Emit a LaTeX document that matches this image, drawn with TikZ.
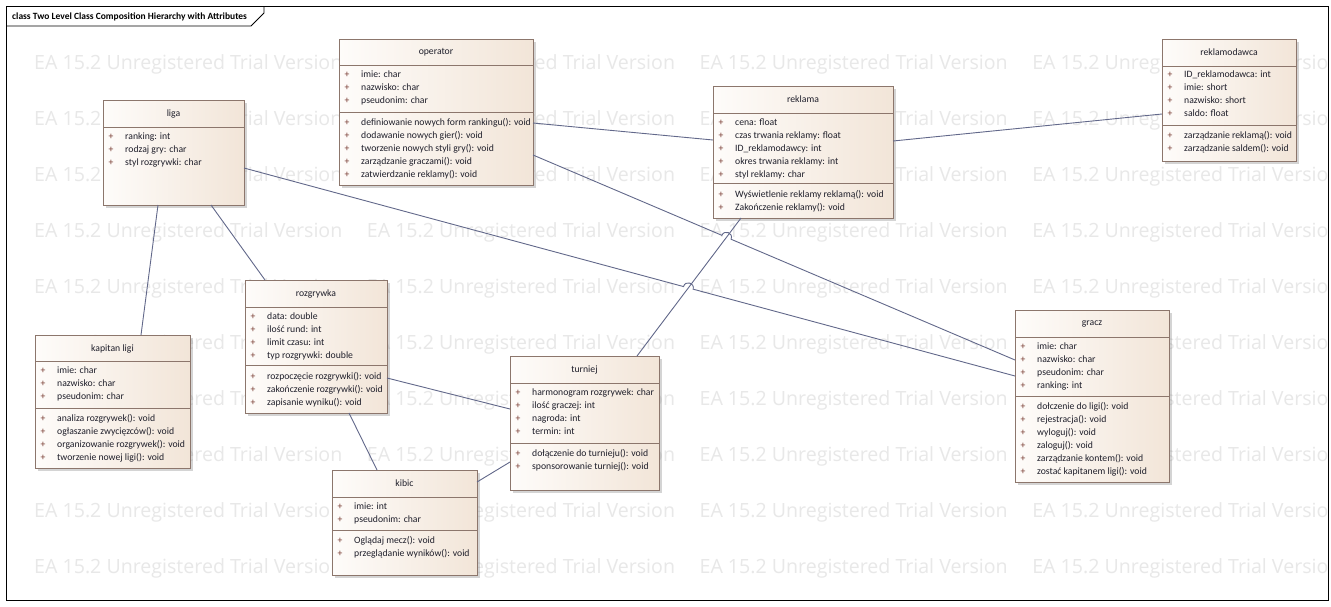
\documentclass[tikz,border=0pt]{standalone}
\usepackage{fontspec}
\setmainfont{Carlito}
\newfontfamily\wmfont{Open Sans}
\usetikzlibrary{calc,intersections,shadows}

\definecolor{boxline}{RGB}{140,118,108}
\definecolor{boxleft}{RGB}{254,252,250}
\definecolor{boxright}{RGB}{242,229,216}
\definecolor{connline}{RGB}{98,104,138}
\definecolor{plusred}{RGB}{115,52,42}
\definecolor{wmgray}{RGB}{232,232,232}
\definecolor{txt}{RGB}{30,30,42}

\tikzset{
  classbox/.style={draw=boxline, line width=0.9pt, left color=boxleft, right color=boxright,
    drop shadow={shadow xshift=2.5pt, shadow yshift=-2.5pt, opacity=0.3, fill=black!55},
    inner sep=0pt, outer sep=0pt},
  classsep/.style={draw=boxline, line width=0.9pt},
  classtitle/.style={inner sep=0pt, text=txt, font=\fontsize{9.7}{11}\selectfont},
  member/.style={anchor=west, inner sep=0pt, text=txt, text height=6.5pt, text depth=1.6pt,
    font=\fontsize{9.7}{11}\selectfont},
  plusmark/.style={inner sep=0pt, text=plusred, text height=6.5pt, text depth=1.6pt,
    font=\fontsize{9.7}{11}\selectfont},
  conn/.style={draw=connline, line width=0.9pt},
  framebox/.style={draw=black, line width=0.9pt},
  watermark/.style={anchor=base west, inner sep=0pt, text=wmgray, font=\wmfont\fontsize{19.6}{20}\selectfont},
  tabtext/.style={anchor=west, inner sep=0pt, font=\bfseries\fontsize{9.5}{11}\selectfont}
}

% rows of a class compartment: node name prefix, left edge, first row y, entries
\newcommand\classrows[4]{%
  \foreach \entry [count=\i] in {#4} {
    \node[plusmark] (#1-p\i) at ({#2+8},{#3+13*(\i-1)}) {+};
    \node[member] (#1-m\i) at ({#2+22},{#3+13*(\i-1)}) {\entry};
  }}
% horizontal compartment separator across a class box
\newcommand\classsep[2]{\draw[classsep] (#1.west |- 0,#2) -- (#1.east |- 0,#2);}
% class title centred in the header band
\newcommand\classtitle[2]{\node[classtitle] (#1-title) at ($(#1.north)+(0,13.5)$) {#2};}

\begin{document}
\begin{tikzpicture}[x=1pt,y=-1pt]
\useasboundingbox (0,0) rectangle (1331,606);
\fill[white] (0,0) rectangle (1331,606);

% trial watermark tiles
\begin{scope}
  \clip (6,6) rectangle (1328,600);
  \foreach \r in {0,...,9}
    \foreach \c in {0,...,3}
      \node[watermark] (wm-\r-\c) at ({34+332.7*\c},{69.5+56*\r}) {EA 15.2 Unregistered Trial Version};
\end{scope}

% diagram frame and name tab
\draw[framebox] (6,6) rectangle (1328,600);
\draw[framebox] (6,26) -- (251,26) -- (264,13) -- (264,6);
\node[tabtext] (frame-title) at (12,16.5) {class Two Level Class Composition Hierarchy with Attributes};

% ---------- classes ----------
\node[classbox, minimum width=141pt, minimum height=105pt] (liga) at (173.5,152.5) {};
\classtitle{liga}{liga}
\classsep{liga}{127}
\classrows{liga-a}{103}{137}{ranking: int, rodzaj gry: char, styl rozgrywki: char}

\node[classbox, minimum width=194pt, minimum height=146pt] (operator) at (436,112) {};
\classtitle{operator}{operator}
\classsep{operator}{65}
\classsep{operator}{112}
\classrows{operator-a}{339}{75.5}{imie: char, nazwisko: char, pseudonim: char}
\classrows{operator-o}{339}{123}{definiowanie nowych form rankingu(): void, dodawanie nowych gier(): void,
  tworzenie nowych styli gry(): void, zarządzanie graczami(): void, zatwierdzanie reklamy(): void}

\node[classbox, minimum width=180pt, minimum height=132pt] (reklama) at (803,152) {};
\classtitle{reklama}{reklama}
\classsep{reklama}{113}
\classsep{reklama}{183}
\classrows{reklama-a}{713}{123}{cena: float, czas trwania reklamy: float, ID\_reklamodawcy: int,
  okres trwania reklamy: int, styl reklamy: char}
\classrows{reklama-o}{713}{195}{Wyświetlenie reklamy reklamą(): void, Zakończenie reklamy(): void}

\node[classbox, minimum width=134pt, minimum height=122pt] (reklamodawca) at (1229,100) {};
\classtitle{reklamodawca}{reklamodawca}
\classsep{reklamodawca}{66}
\classsep{reklamodawca}{125}
\classrows{reklamodawca-a}{1162}{75.5}{ID\_reklamodawca: int, imie: short, nazwisko: short, saldo: float}
\classrows{reklamodawca-o}{1162}{136}{zarządzanie reklamą(): void, zarządzanie saldem(): void}

\node[classbox, minimum width=155pt, minimum height=133pt] (kapitan) at (112.5,401.5) {};
\classtitle{kapitan}{kapitan ligi}
\classsep{kapitan}{361}
\classsep{kapitan}{408}
\classrows{kapitan-a}{35}{371.5}{imie: char, nazwisko: char, pseudonim: char}
\classrows{kapitan-o}{35}{419}{analiza rozgrywek(): void, ogłaszanie zwycięzców(): void,
  organizowanie rozgrywek(): void, tworzenie nowej ligi(): void}

\node[classbox, minimum width=142pt, minimum height=133pt] (rozgrywka) at (316,346.5) {};
\classtitle{rozgrywka}{rozgrywka}
\classsep{rozgrywka}{307}
\classsep{rozgrywka}{365}
\classrows{rozgrywka-a}{245}{317.5}{data: double, ilość rund: int, limit czasu: int, typ rozgrywki: double}
\classrows{rozgrywka-o}{245}{377}{rozpoczęcie rozgrywki(): void, zakończenie rozgrywki(): void, zapisanie wyniku(): void}

\node[classbox, minimum width=149pt, minimum height=134pt] (turniej) at (584.5,423) {};
\classtitle{turniej}{turniej}
\classsep{turniej}{383}
\classsep{turniej}{443}
\classrows{turniej-a}{510}{393.5}{harmonogram rozgrywek: char, ilość graczej: int, nagroda: int, termin: int}
\classrows{turniej-o}{510}{454.5}{dołączenie do turnieju(): void, sponsorowanie turniej(): void}

\node[classbox, minimum width=154pt, minimum height=172pt] (gracz) at (1092,396) {};
\classtitle{gracz}{gracz}
\classsep{gracz}{337}
\classsep{gracz}{396}
\classrows{gracz-a}{1015}{347}{imie: char, nazwisko: char, pseudonim: char, ranking: int}
\classrows{gracz-o}{1015}{407}{dołczenie do ligi(): void, rejestracja(): void, wyloguj(): void, zaloguj(): void,
  zarządzanie kontem(): void, zostać kapitanem ligi(): void}

\node[classbox, minimum width=145pt, minimum height=105pt] (kibic) at (404.5,522.5) {};
\classtitle{kibic}{kibic}
\classsep{kibic}{497}
\classsep{kibic}{530}
\classrows{kibic-a}{332}{507}{imie: int, pseudonim: char}
\classrows{kibic-o}{332}{541}{Oglądaj mecz(): void, przeglądanie wyników(): void}

% ---------- associations ----------
\draw[conn] ($(liga.south)+(-15.5,0)$) -- ($(kapitan.north)+(28.5,0)$);
\draw[conn] ($(liga.south)+(37.5,0)$) -- ($(rozgrywka.north)+(-51,0)$);
\draw[conn] ($(operator.east)+(0,11)$) -- ($(reklama.west)+(0,-12)$);
\draw[conn] ($(reklama.east)+(0,-11)$) -- ($(reklamodawca.west)+(0,14)$);
\draw[conn] ($(rozgrywka.east)+(0,31.5)$) -- ($(turniej.west)+(0,-14)$);
\draw[conn] ($(rozgrywka.south)+(33,0)$) -- ($(kibic.north)+(-27.5,0)$);
\draw[conn] ($(kibic.east)+(0,-40.5)$) -- ($(turniej.west)+(0,39)$);

% straight line reklama -- turniej; the two long lines hop over it
\coordinate (rt-a) at ($(reklama.south)+(-62,0)$);
\coordinate (rt-b) at ($(turniej.north)+(52.5,0)$);
\draw[conn, name path=rtline] (rt-a) -- (rt-b);

\coordinate (lg-a) at ($(liga.east)+(0,15.5)$);
\coordinate (lg-b) at ($(gracz.west)+(0,-20)$);
\coordinate (og-a) at ($(operator.east)+(0,43)$);
\coordinate (og-b) at ($(gracz.west)+(0,-36)$);
\path[name path=lgline] (lg-a) -- (lg-b);
\path[name path=ogline] (og-a) -- (og-b);
\path[name intersections={of=rtline and lgline, by=lg-x}];
\path[name intersections={of=rtline and ogline, by=og-x}];
\coordinate (lg-h1) at ($(lg-x)!5pt!(lg-a)$);
\coordinate (lg-h2) at ($(lg-x)!5pt!(lg-b)$);
\coordinate (og-h1) at ($(og-x)!5pt!(og-a)$);
\coordinate (og-h2) at ($(og-x)!5pt!(og-b)$);
\draw[conn] (lg-a) -- (lg-h1)
  .. controls ($(lg-h1)!6.7pt!90:(lg-x)$) and ($(lg-h2)!6.7pt!-90:(lg-x)$) .. (lg-h2) -- (lg-b);
\draw[conn] (og-a) -- (og-h1)
  .. controls ($(og-h1)!6.7pt!90:(og-x)$) and ($(og-h2)!6.7pt!-90:(og-x)$) .. (og-h2) -- (og-b);
\end{tikzpicture}
\end{document}
